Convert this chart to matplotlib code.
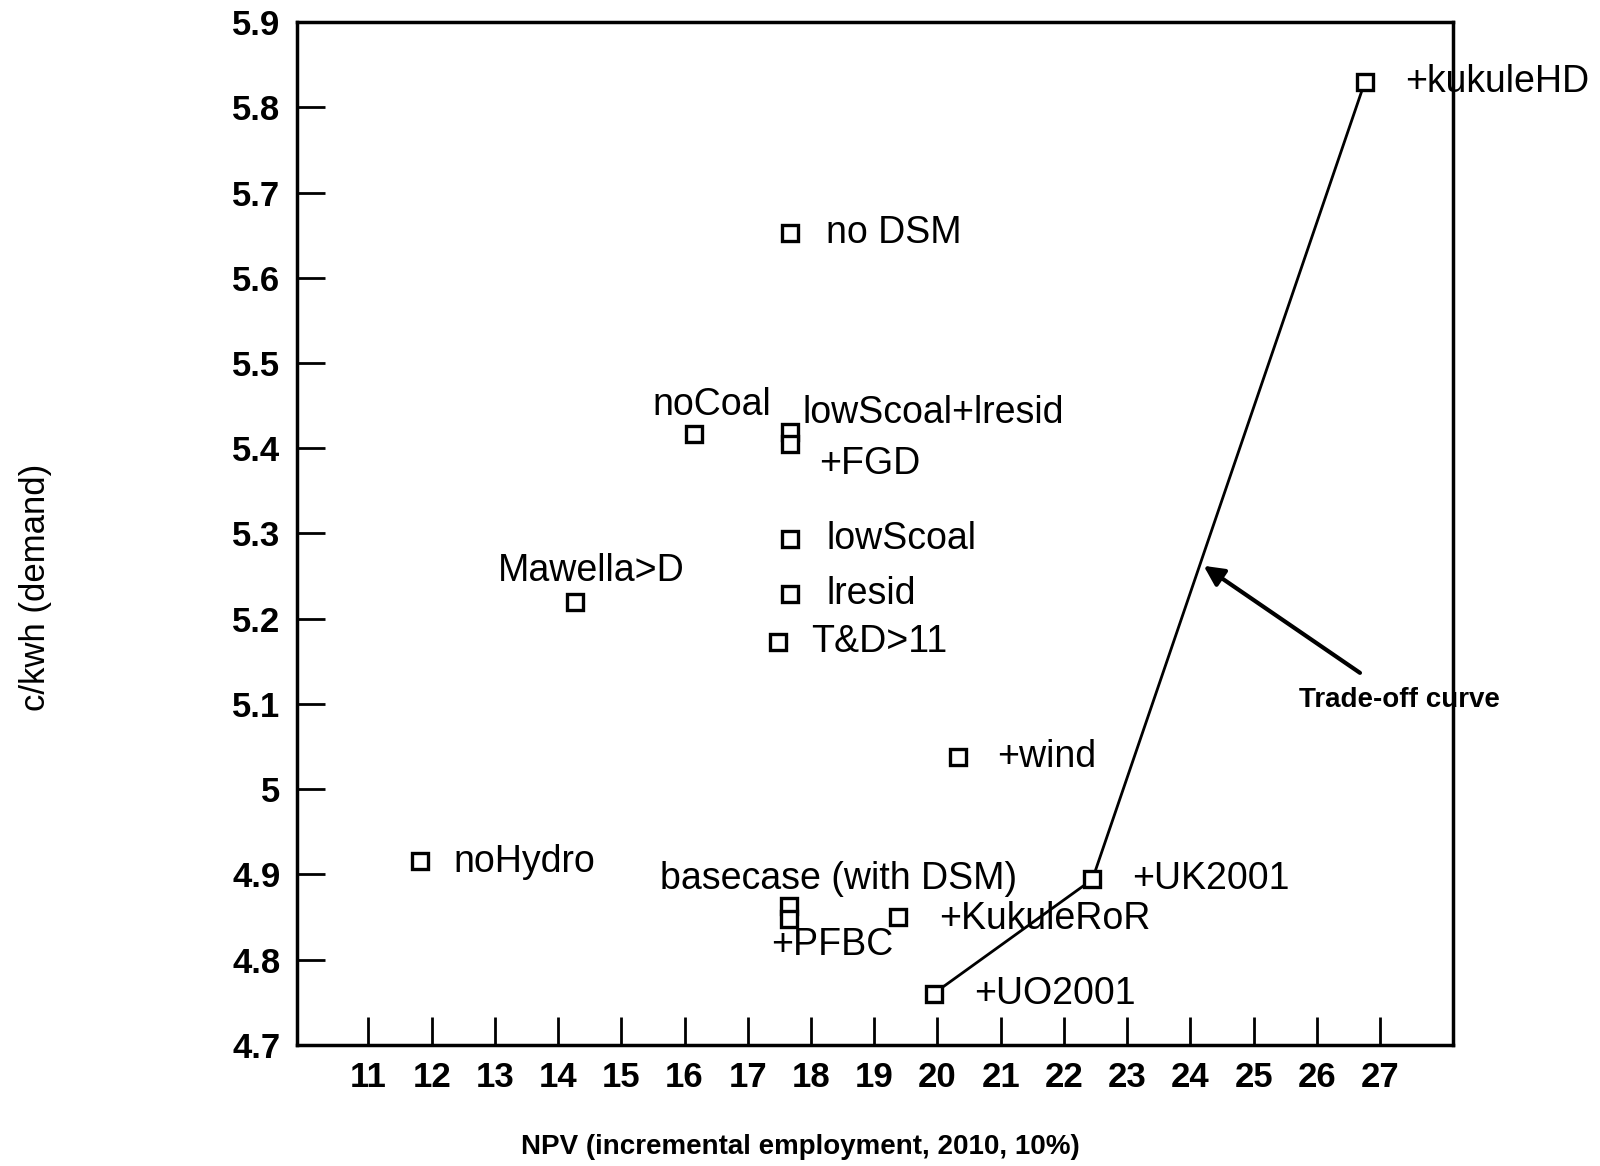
import matplotlib
matplotlib.use("Agg")
import matplotlib.pyplot as plt

plt.rcParams['font.family'] = ['Liberation Sans', 'DejaVu Sans']

# scenario points: NPV (incremental employment) vs c/kwh
names = ['+kukuleHD', 'no DSM', 'noCoal', 'lowScoal+lresid', '+FGD', 'lowScoal',
         'lresid', 'T&D>11', 'Mawella>D', '+wind', 'noHydro',
         'basecase (with DSM)', '+PFBC', '+KukuleRoR', '+UK2001', '+UO2001']
npv = [26.76, 17.66, 16.15, 17.66, 17.66, 17.66,
       17.66, 17.47, 14.27, 20.32, 11.81,
       17.65, 17.65, 19.37, 22.45, 19.94]
cost = [5.83, 5.653, 5.417, 5.419, 5.405, 5.294,
        5.229, 5.173, 5.22, 5.038, 4.916,
        4.863, 4.848, 4.850, 4.894, 4.760]

# where each label starts
label_x = [27.4, 18.24, 15.5, 17.87, 18.13, 18.24,
           18.24, 18.0, 13.05, 20.94, 12.35,
           15.61, 17.37, 20.02, 23.08, 20.58]
label_y = [5.83, 5.652, 5.451, 5.441, 5.381, 5.294,
           5.229, 5.173, 5.256, 5.038, 4.914,
           4.894, 4.817, 4.847, 4.894, 4.760]

# trade-off curve passes through these scenarios
curve = ['+UO2001', '+UK2001', '+kukuleHD']

fig = plt.figure(figsize=(16, 11.66), dpi=100)
ax = fig.add_axes([0.1856, 0.104, 0.7224, 0.877])

cx = [npv[names.index(n)] for n in curve]
cy = [cost[names.index(n)] for n in curve]
ax.plot(cx, cy, color='black', lw=2)

ax.plot(npv, cost, 's', ms=12, mfc='white', mec='black', mew=2.4, ls='none')

for n, lx, ly in zip(names, label_x, label_y):
    ax.text(lx, ly, n, fontsize=27, va='center', ha='left')

ax.annotate('Trade-off curve', xy=(24.21, 5.262), xytext=(27.3, 5.105),
            fontsize=20, fontweight='bold', ha='center', va='center',
            arrowprops=dict(arrowstyle='-|>', color='black', lw=3,
                            mutation_scale=30, shrinkA=14, shrinkB=0))

ax.set_xlim(9.87, 28.15)
ax.set_ylim(4.7, 5.9)
ax.set_xticks(range(11, 28))
yt = [4.7, 4.8, 4.9, 5.0, 5.1, 5.2, 5.3, 5.4, 5.5, 5.6, 5.7, 5.8, 5.9]
ax.set_yticks(yt)
ax.set_yticklabels(['5' if v == 5.0 else f'{v:.1f}' for v in yt])
ax.tick_params(direction='in', length=20, width=2, labelsize=25, pad=12)
for lab in ax.get_xticklabels() + ax.get_yticklabels():
    lab.set_fontweight('bold')
for s in ax.spines.values():
    s.set_linewidth(2.5)

fig.text(0.022, 0.496, 'c/kwh (demand)', fontsize=25, rotation=90,
         ha='center', va='center')
fig.text(0.5, 0.016, 'NPV (incremental employment, 2010, 10%)',
         fontsize=20, fontweight='bold', ha='center', va='center')

fig.savefig('out.png', dpi=100)
